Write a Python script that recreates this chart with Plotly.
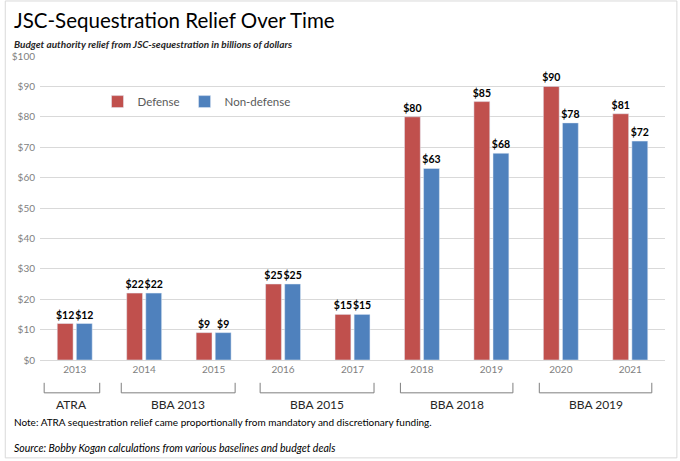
import plotly.graph_objects as go

years = ["2013", "2014", "2015", "2016", "2017", "2018", "2019", "2020", "2021"]
defense = [12, 22, 9, 25, 15, 80, 85, 90, 81]
nondefense = [12, 22, 9, 25, 15, 63, 68, 78, 72]
y_ticks = [0, 10, 20, 30, 40, 50, 60, 70, 80, 90, 100]
y_tick_labels = ["$" + str(v) for v in y_ticks]
deal_names = ["ATRA", "BBA 2013", "BBA 2015", "BBA 2018", "BBA 2019"]
deal_spans = [(-0.44, 0.36), (0.67, 2.31), (2.67, 4.31), (4.69, 6.31), (6.69, 8.31)]

FONT = "Lato"
lbl_font = dict(family=FONT, size=10.5, color="#000000")

fig = go.Figure()
fig.add_trace(go.Bar(x=years, y=defense, name="Defense", marker=dict(color="#C0504D"),
                     texttemplate="<b>$%{y:.0f}</b>", textposition="outside",
                     textfont=lbl_font, cliponaxis=False, constraintext="none"))
fig.add_trace(go.Bar(x=years, y=nondefense, name="Non-defense", marker=dict(color="#4F81BD"),
                     texttemplate="<b>$%{y:.0f}</b>", textposition="outside",
                     textfont=lbl_font, cliponaxis=False, constraintext="none"))

shapes = []
anns = []
for name, (a, b) in zip(deal_names, deal_spans):
    shapes.append(dict(type="path", xref="x", yref="paper",
                       path=f"M {a} -0.075 L {a} -0.108 L {b} -0.108 L {b} -0.075",
                       line=dict(color="#7f7f7f", width=1)))
    anns.append(dict(x=(a + b) / 2, y=-0.145, xref="x", yref="paper", text=name,
                     showarrow=False, font=dict(family=FONT, size=12, color="#262626"),
                     xanchor="center", yanchor="middle"))

# outer border
shapes.append(dict(type="rect", xref="paper", yref="paper", x0=-0.0556, x1=1.019, y0=-0.322, y1=1.181,
                   line=dict(color="#d9d9d9", width=1)))

anns += [
    dict(x=-0.0445, y=1.118, xref="paper", yref="paper", text="JSC-Sequestration Relief Over Time",
         showarrow=False, xanchor="left", yanchor="middle",
         font=dict(family=FONT, size=20.5, color="#000000")),
    dict(x=-0.0445, y=1.039, xref="paper", yref="paper",
         text="<b><i>Budget authority relief from JSC-sequestration in billions of dollars</i></b>",
         showarrow=False, xanchor="left", yanchor="middle",
         font=dict(family=FONT, size=10, color="#262626")),
    dict(x=-0.0445, y=-0.204, xref="paper", yref="paper",
         text="Note: ATRA sequestration relief came proportionally from mandatory and discretionary funding.",
         showarrow=False, xanchor="left", yanchor="middle",
         font=dict(family=FONT, size=10, color="#000000")),
    dict(x=-0.0445, y=-0.288, xref="paper", yref="paper",
         text="<i>Source: Bobby Kogan calculations from various baselines and budget deals</i>",
         showarrow=False, xanchor="left", yanchor="middle",
         font=dict(family=FONT, size=10.5, color="#000000")),
]

fig.update_layout(
    width=680, height=461,
    margin=dict(l=36, r=15, t=56, b=101),
    paper_bgcolor="white", plot_bgcolor="white",
    barmode="group", bargap=0.45, bargroupgap=0.17,
    font=dict(family=FONT),
    legend=dict(orientation="h", x=0.092, y=0.85, xanchor="left", yanchor="middle",
                font=dict(family=FONT, size=11.5, color="#595959"), bgcolor="rgba(0,0,0,0)",
                itemwidth=30, tracegroupgap=0),
    shapes=shapes, annotations=anns,
    xaxis=dict(type="category", showgrid=False, showline=True, linecolor="#d9d9d9",
               tickfont=dict(family=FONT, size=10, color="#7f7f7f"), ticks="",
               range=[-0.5, 8.5]),
    yaxis=dict(range=[0, 100], tickvals=y_ticks, ticktext=y_tick_labels,
               showgrid=True, gridcolor="#d9d9d9", zeroline=False,
               tickfont=dict(family=FONT, size=10, color="#7f7f7f"), ticks="", ticklabelstandoff=4),
)
fig.write_html("out.html", config={"displayModeBar": False},
               post_script="document.body.style.margin='0';document.body.style.padding='0';")
